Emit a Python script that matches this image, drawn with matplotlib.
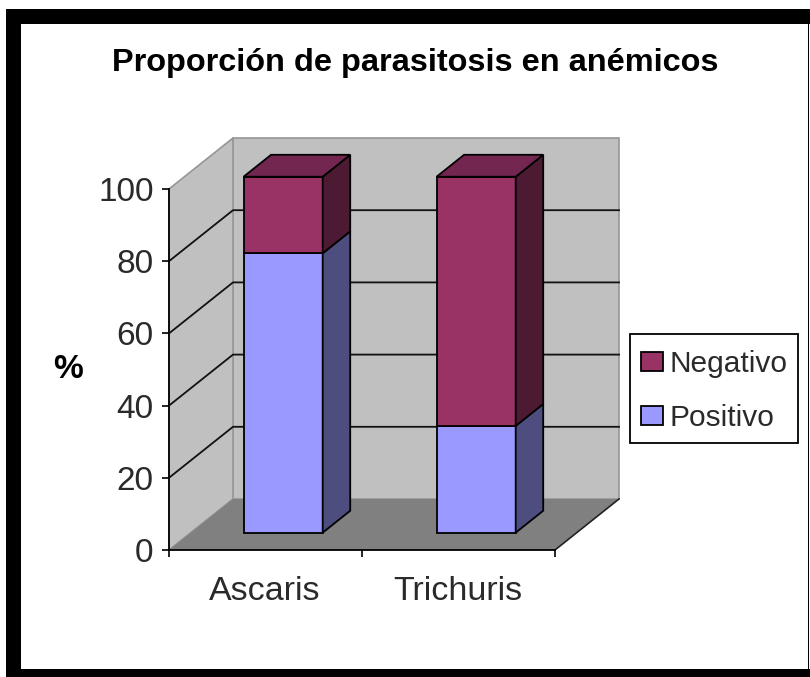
import matplotlib
matplotlib.use('Agg')
import matplotlib.pyplot as plt
from matplotlib.patches import Patch, Rectangle

# Data
categories = ['Ascaris', 'Trichuris']
positivo = [78.5, 30]
negativo = [21.5, 70]
y_ticks = [0, 20, 40, 60, 80, 100]

W, H = 810, 677
plt.rcParams['font.family'] = ['Liberation Sans', 'DejaVu Sans']

# colours: front, side, top
BLUE = ('#9999FF', '#4D4D80', '#73739F')
PLUM = ('#993366', '#4D1A33', '#732650')
TXT = '#2A2A2A'

# depth of the fake 3D box, in data units (64px across, 51px up)
DX = 64 / 193
DY = 51 / 3.61
D0, D1 = 0.34, 0.77
BAR_W = 0.41
BAR_SCALE = 0.986  # excel draws the bars a bit short of the axis


def proj(x, v, d):
    return x + d * DX, v + d * DY


def poly(ax, pts, **kw):
    ax.fill([p[0] for p in pts], [p[1] for p in pts], clip_on=False, **kw)


fig = plt.figure(figsize=(W / 100, H / 100), dpi=100, facecolor='white')

# black picture frame
for x, y, w, h in [(6, 9, 804, 15), (6, 9, 15, 668), (6, 669, 804, 8), (807.5, 9, 1.5, 668)]:
    fig.add_artist(Rectangle((x / W, 1 - (y + h) / H), w / W, h / H, transform=fig.transFigure,
                             facecolor='black', edgecolor='none'))

ax = fig.add_axes([169 / W, 1 - 550 / H, 386 / W, 361 / H])
ax.set_xlim(0, 2)
ax.set_ylim(0, 100)
ax.patch.set_visible(False)
for s in ['top', 'right']:
    ax.spines[s].set_visible(False)
for s in ['left', 'bottom']:
    ax.spines[s].set_linewidth(1.3)

# walls and floor
poly(ax, [proj(0, 0, 1), proj(2, 0, 1), proj(2, 100, 1), proj(0, 100, 1)],
     facecolor='#C0C0C0', edgecolor='#969696', linewidth=1.2, zorder=1)
poly(ax, [proj(0, 0, 0), proj(0, 0, 1), proj(0, 100, 1), proj(0, 100, 0)],
     facecolor='#C0C0C0', edgecolor='#969696', linewidth=1.2, zorder=1)
poly(ax, [proj(0, 0, 0), proj(2, 0, 0), proj(2, 0, 1), proj(0, 0, 1)],
     facecolor='#808080', edgecolor='none', zorder=1.5)

# gridlines on the walls
for v in y_ticks[1:-1]:
    pts = [proj(0, v, 0), proj(0, v, 1), proj(2, v, 1)]
    ax.plot([p[0] for p in pts], [p[1] for p in pts], color='#111111', lw=1.3, clip_on=False, zorder=2)
pts = [proj(2, 0, 0), proj(2, 0, 1)]
ax.plot([p[0] for p in pts], [p[1] for p in pts], color='#222222', lw=1.2, clip_on=False, zorder=2)

# stacked bars
for i in range(len(categories)):
    x0 = i + 0.2736
    x1 = x0 + BAR_W
    base = 0
    for val, cols, is_last in [(positivo[i], BLUE, False), (negativo[i], PLUM, True)]:
        lo = base * BAR_SCALE
        hi = (base + val) * BAR_SCALE
        fx, fy = proj(x0, lo, D0)
        ax.bar(fx, hi - lo, BAR_W, bottom=fy, align='edge', facecolor=cols[0], edgecolor='black',
               linewidth=1.3, clip_on=False, zorder=3)
        poly(ax, [proj(x1, lo, D0), proj(x1, lo, D1), proj(x1, hi, D1), proj(x1, hi, D0)],
             facecolor=cols[1], edgecolor='black', linewidth=1.3, zorder=3)
        if is_last:
            poly(ax, [proj(x0, hi, D0), proj(x1, hi, D0), proj(x1, hi, D1), proj(x0, hi, D1)],
                 facecolor=cols[2], edgecolor='black', linewidth=1.3, zorder=3)
        base += val

# axes
ax.set_yticks(y_ticks)
ax.tick_params(axis='y', labelsize=24, length=5, width=1.2, pad=6, labelcolor=TXT)
ax.set_xticks([0, 1, 2])
ax.set_xticklabels([])
ax.set_xticks([0.495, 1.495], labels=categories, minor=True)
ax.tick_params(axis='x', which='major', length=5, width=1.2)
ax.tick_params(axis='x', which='minor', length=0, labelsize=24.5, pad=19, labelcolor=TXT)

fig.text(415 / W, 1 - 63 / H, 'Proporción de parasitosis en anémicos', fontsize=23.4, fontweight='bold',
         ha='center', va='center')
fig.text(68 / W, 1 - 370 / H, '%', fontsize=24, fontweight='bold', ha='center', va='center')

# legend box drawn apart so its size can be set
fig.add_artist(Rectangle((630 / W, 1 - 443 / H), 168 / W, 109 / H, transform=fig.transFigure,
                         facecolor='white', edgecolor='black', linewidth=1.3, zorder=5))
handles = [Patch(facecolor=PLUM[0], edgecolor='black', linewidth=1.3, label='Negativo'),
           Patch(facecolor=BLUE[0], edgecolor='black', linewidth=1.3, label='Positivo')]
leg = fig.legend(handles=handles, loc='upper left', bbox_to_anchor=(641 / W, 1 - 350 / H),
                 bbox_transform=fig.transFigure, fontsize=21.5, frameon=False,
                 handlelength=0.72, handleheight=0.65, handletextpad=0.25,
                 labelspacing=0.87, borderpad=0, borderaxespad=0, labelcolor=TXT)
leg.set_zorder(6)

fig.savefig('out.png', dpi=100)
